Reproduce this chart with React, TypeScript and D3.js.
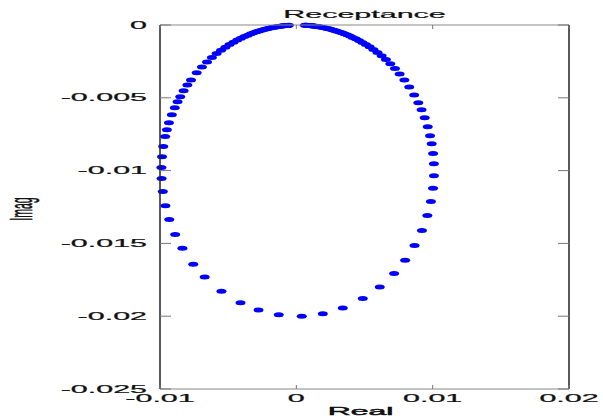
// @ts-nocheck
import React from "react";
import * as d3 from "d3";

// axis ticks
const xTicks = [-0.01, 0, 0.01, 0.02];
const yTicks = [0, -0.005, -0.01, -0.015, -0.02, -0.025];

// receptance points (real, imag), left branch
const realLeft = [
  -0.001292, -0.002774, -0.004095, -0.005492, -0.00672, -0.00756, -0.008357, -0.008888,
  -0.009321, -0.009603, -0.009795, -0.009885, -0.009898, -0.009854, -0.009763, -0.009624,
  -0.009498, -0.009344, -0.009132, -0.008918, -0.008713, -0.008516, -0.008268, -0.00799,
  -0.007726, -0.007308, -0.006922, -0.006552, -0.006193, -0.005848, -0.005521, -0.005199,
  -0.0049, -0.00461, -0.004331, -0.004063, -0.003807, -0.003565, -0.003337, -0.003123,
  -0.002924, -0.00274, -0.002556, -0.002387, -0.002217, -0.002064, -0.001911, -0.001774,
  -0.001636, -0.001516, -0.001395, -0.001274, -0.001171, -0.001067, -0.000963, -0.000876,
  -0.000789, -0.000702, -0.000615, -0.000545,
];
const imagLeft = [
  -0.019903, -0.019578, -0.019078, -0.01829, -0.017314, -0.016428, -0.015336, -0.014384,
  -0.013355, -0.012419, -0.011444, -0.010541, -0.009791, -0.009042, -0.00835, -0.007666,
  -0.007193, -0.006711, -0.006157, -0.005679, -0.005274, -0.004925, -0.004524, -0.004122,
  -0.003775, -0.003283, -0.00288, -0.002534, -0.002229, -0.001961, -0.001729, -0.00152,
  -0.00134, -0.001179, -0.001035, -0.000908, -0.000795, -0.000696, -0.000609, -0.000534,
  -0.000468, -0.000412, -0.000359, -0.000314, -0.000272, -0.000237, -0.000204, -0.000177,
  -0.000152, -0.000131, -0.000112, -0.000095, -0.000081, -0.000068, -0.000057, -0.000048,
  -0.00004, -0.000032, -0.000026, -0.000021,
];

// right branch
const realRight = [
  0.000397, 0.00194, 0.003405, 0.004872, 0.006118, 0.007171, 0.00798, 0.008672,
  0.009214, 0.009611, 0.00987, 0.010025, 0.010094, 0.010089, 0.010032, 0.009929,
  0.009807, 0.009637, 0.009417, 0.009185, 0.008946, 0.008645, 0.008281, 0.007926,
  0.007578, 0.007233, 0.006894, 0.006568, 0.006257, 0.00595, 0.005648, 0.00537,
  0.0051, 0.004841, 0.004593, 0.004358, 0.004135, 0.003927, 0.003716, 0.00352,
  0.003339, 0.003157, 0.00299, 0.002823, 0.002671, 0.002519, 0.002384, 0.002247,
  0.002111, 0.001991, 0.001871, 0.00175, 0.001647, 0.001544, 0.00144, 0.001353,
  0.001267, 0.00118, 0.001093, 0.001024, 0.000954, 0.000885, 0.000815, 0.000745,
  0.000676, 0.000623,
];
const imagRight = [
  -0.019996, -0.019829, -0.019438, -0.018788, -0.017986, -0.017071, -0.016157, -0.01515,
  -0.014115, -0.01309, -0.01213, -0.011219, -0.010349, -0.009529, -0.008833, -0.00816,
  -0.007598, -0.006993, -0.006367, -0.005821, -0.005336, -0.004805, -0.00425, -0.003775,
  -0.003361, -0.002991, -0.002663, -0.002373, -0.00212, -0.001889, -0.00168, -0.001501,
  -0.00134, -0.001195, -0.001066, -0.000952, -0.00085, -0.000761, -0.000677, -0.000603,
  -0.000539, -0.000479, -0.000427, -0.000378, -0.000336, -0.000297, -0.000264, -0.000233,
  -0.000204, -0.00018, -0.000158, -0.000137, -0.00012, -0.000105, -0.00009, -0.000079,
  -0.000068, -0.000058, -0.000049, -0.000043, -0.000037, -0.000031, -0.000026, -0.000021,
  -0.000017, -0.000014,
];

const W = 603, H = 419;
const margin = { top: 25, right: 34, bottom: 30, left: 160 };
const font = "'Liberation Sans', Arial, Helvetica, sans-serif";
const SX = 2.9; // the picture's text is stretched sideways

function Txt({ x, y, anchor = "middle", size = 10.5, rotate = 0, dy = 0, children, heavy = 0.2 }) {
  return (
    <g transform={`translate(${x},${y}) scale(${SX},1) rotate(${rotate})`}>
      <text textAnchor={anchor} dy={dy} fontSize={size} fontFamily={font}
        fill="#111" stroke="#111" strokeWidth={heavy}>
        {children}
      </text>
    </g>
  );
}

export default function App() {
  const x = d3.scaleLinear().domain([-0.01, 0.02]).range([margin.left, W - margin.right]);
  const y = d3.scaleLinear().domain([-0.025, 0]).range([H - margin.bottom, margin.top]);
  const [x0, x1] = x.range();
  const [y1, y0] = y.range();

  const pts = [
    ...realLeft.map((r, i) => [r, imagLeft[i]]),
    ...realRight.map((r, i) => [r, imagRight[i]]),
  ];

  return (
    <svg width={W} height={H} style={{ position: "absolute", left: 0, top: 0, background: "#fff" }}>
      {/* points */}
      {pts.map((d, i) => (
        <ellipse key={i} cx={x(d[0])} cy={y(d[1])} rx={5} ry={2.5} fill="#0000ff" />
      ))}

      {/* box */}
      <line x1={x0} x2={x1} y1={y0} y2={y0} stroke="#888" strokeWidth={1} />
      <line x1={x0} x2={x1} y1={y1} y2={y1} stroke="#888" strokeWidth={1} />
      <line x1={x0} x2={x0} y1={y0} y2={y1} stroke="#222" strokeWidth={1.5} />
      <line x1={x1} x2={x1} y1={y0} y2={y1} stroke="#222" strokeWidth={1.5} />

      {/* x ticks */}
      {xTicks.map((t) => (
        <g key={"x" + t}>
          <line x1={x(t)} x2={x(t)} y1={y1} y2={y1 - 4} stroke="#777" />
          <line x1={x(t)} x2={x(t)} y1={y0} y2={y0 + 4} stroke="#777" />
          <Txt x={x(t)} y={y1 + 13}>{String(t)}</Txt>
        </g>
      ))}

      {/* y ticks */}
      {yTicks.map((t) => (
        <g key={"y" + t}>
          <line x1={x0} x2={x0 + 11} y1={y(t)} y2={y(t)} stroke="#777" />
          <line x1={x1} x2={x1 - 11} y1={y(t)} y2={y(t)} stroke="#777" />
          <Txt x={x0 - 13} y={y(t)} anchor="end" dy="0.35em">{String(t)}</Txt>
        </g>
      ))}

      <Txt x={(x0 + x1) / 2} y={18}>Receptance</Txt>
      <Txt x={(x0 + x1) / 2 - 4} y={415} size={11} heavy={0.45}>Real</Txt>
      <Txt x={21} y={209} rotate={-90} dy="0.35em">Imag</Txt>
    </svg>
  );
}
